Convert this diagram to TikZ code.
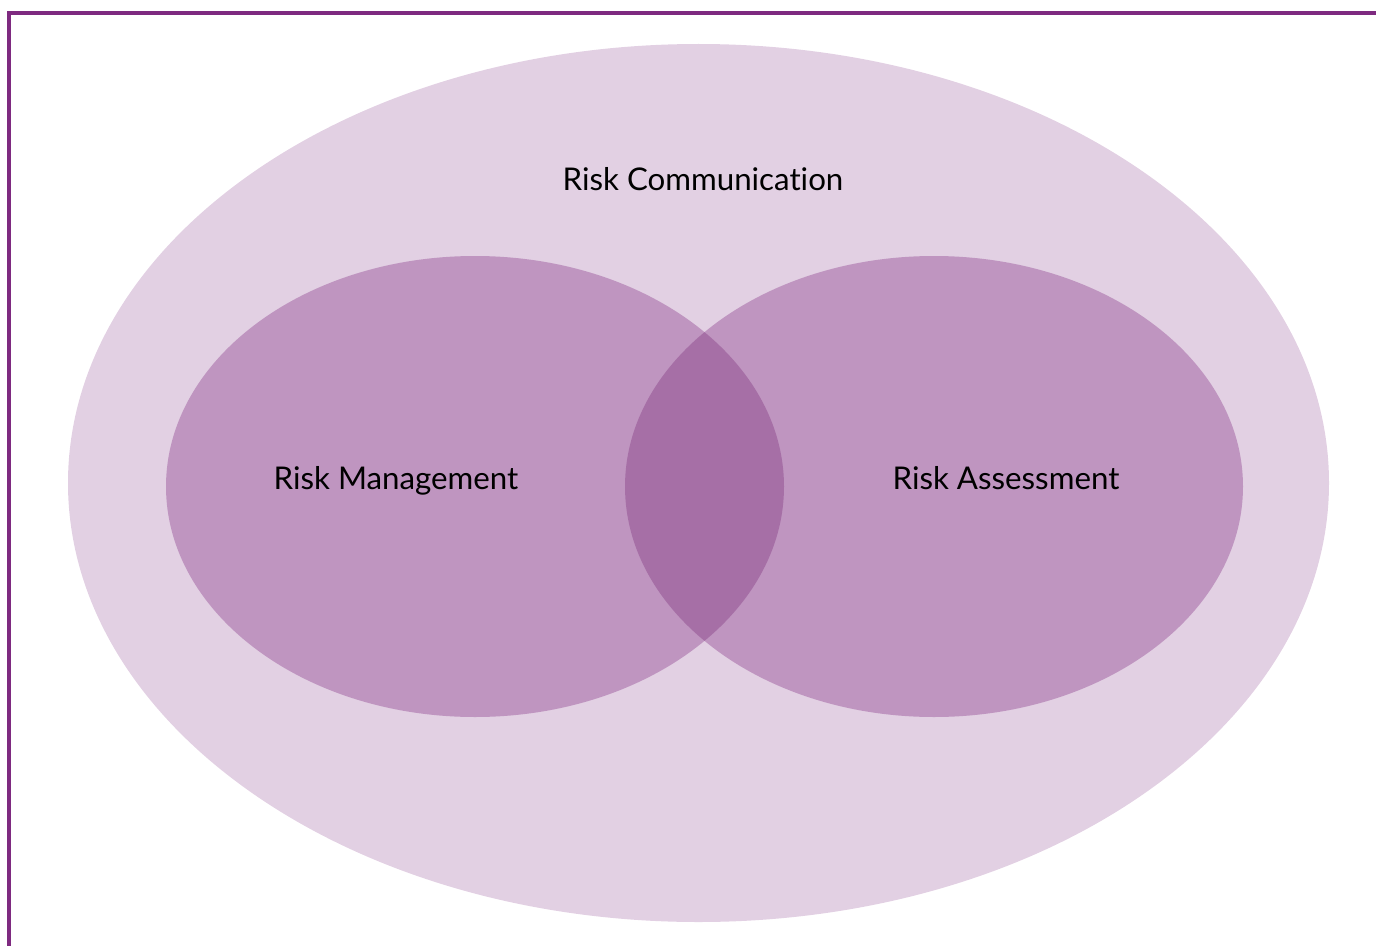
\documentclass[tikz,border=0pt]{standalone}
\usepackage{fontspec}
\setmainfont[Ligatures={NoCommon}]{Lato}
\usepackage{xcolor}
\usetikzlibrary{positioning}
\definecolor{commfill}{HTML}{E2D0E3}
\definecolor{setfill}{HTML}{BF95C0}
\definecolor{overlapfill}{HTML}{A66FA6}
\definecolor{framecol}{HTML}{7E2A80}
\tikzset{
  setlabel/.style={font=\fontsize{17.8}{21}\selectfont, text=black, inner sep=0pt, anchor=base}
}

\begin{document}
\begin{tikzpicture}[x=0.02cm,y=-0.02cm]
            \useasboundingbox (0,0) rectangle (1376,946);
            % 定点
            \coordinate (comm) at (698.5,483);
            \coordinate (mgmt) at (475,486.5);
            \coordinate (assess) at (934,486.5);
            % 外框
            \begin{scope}
                \clip (0,0) rectangle (1376,946);
                \draw [framecol, line width=2.2pt] (9,13) rectangle (1400,970);
            \end{scope}
            % 画椭圆
            \fill [commfill] (comm) ellipse [x radius=630.5, y radius=439];
            \foreach \point in {mgmt,assess}
                \fill [setfill] (\point) ellipse [x radius=309, y radius=230.5];
            \begin{scope}
                \clip (mgmt) ellipse [x radius=309, y radius=230.5];
                \fill [overlapfill] (assess) ellipse [x radius=309, y radius=230.5];
            \end{scope}
            % 标记
            \node [setlabel] (commlabel) at (703,191) {Risk Communication};
            \node [setlabel] (mgmtlabel) at (396,489) {Risk Management};
            \node [setlabel] (assesslabel) at (1006,489) {Risk Assessment};
        \end{tikzpicture}
\end{document}
